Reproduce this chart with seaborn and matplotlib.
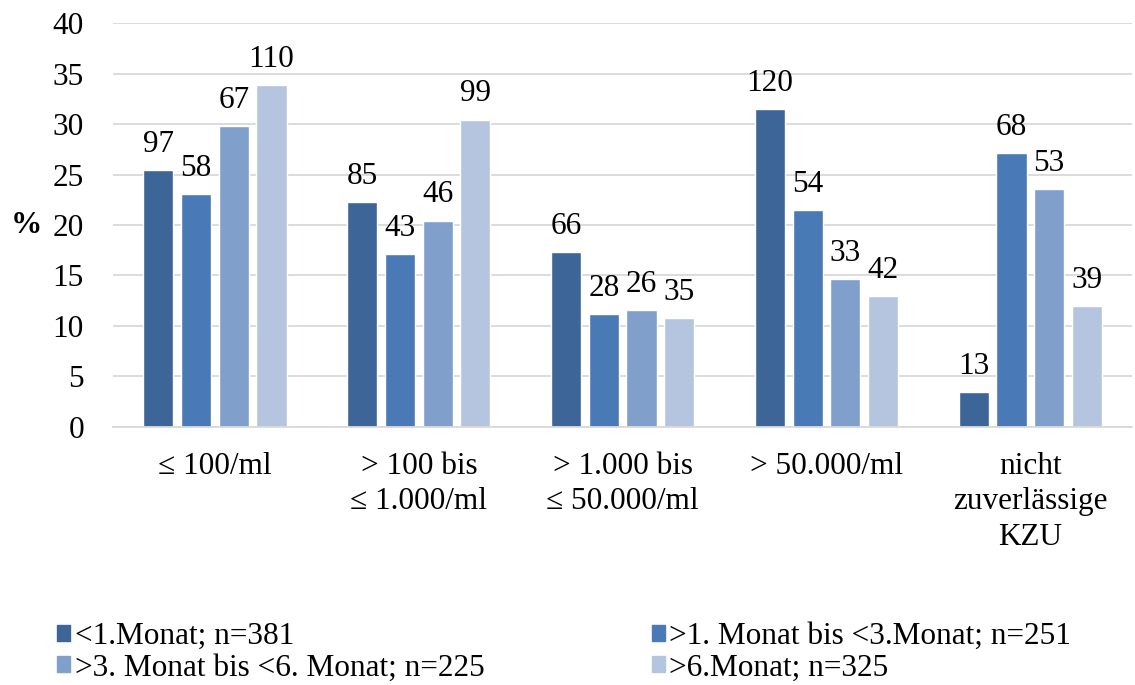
import matplotlib
matplotlib.use("Agg")
import matplotlib.pyplot as plt
import seaborn as sns
import pandas as pd

# Categories (bacterial count classes) and the four age groups
categories = ["≤ 100/ml", "> 100 bis\n≤ 1.000/ml", "> 1.000 bis\n≤ 50.000/ml",
              "> 50.000/ml", "nicht\nzuverlässige\nKZU"]
groups = ["<1.Monat; n=381", ">1. Monat bis <3.Monat; n=251",
          ">3. Monat bis <6. Monat; n=225", ">6.Monat; n=325"]
group_n = [381, 251, 225, 325]

# Counts per group, one list per age group (ordered like categories)
counts_lt1 = [97, 85, 66, 120, 13]
counts_1_3 = [58, 43, 28, 54, 68]
counts_3_6 = [67, 46, 26, 33, 53]
counts_gt6 = [110, 99, 35, 42, 39]

colors = ["#3d6597", "#4a7ab5", "#809fcb", "#b5c5e0"]

all_counts = [counts_lt1, counts_1_3, counts_3_6, counts_gt6]
rows = []
for g, n, cs in zip(groups, group_n, all_counts):
    for c, v in zip(categories, cs):
        rows.append({"Kategorie": c, "Gruppe": g, "Anzahl": v, "Prozent": v / n * 100})
df = pd.DataFrame(rows)

sns.set_theme(style="white")
plt.rcParams["font.family"] = ["Liberation Serif", "DejaVu Serif"]
plt.rcParams["text.color"] = "black"
FS = 22.5

fig = plt.figure(figsize=(11.35, 6.85), dpi=100)
ax = fig.add_axes([0.0996, 0.377, 0.898, 0.589])

sns.barplot(data=df, x="Kategorie", y="Prozent", hue="Gruppe", order=categories,
            hue_order=groups, palette=colors, width=0.74, gap=0.2,
            saturation=1, errorbar=None, ax=ax, legend=False)

for cont, cs in zip(ax.containers, all_counts):
    ax.bar_label(cont, labels=[str(v) for v in cs], padding=8, fontsize=FS,
                 color="black")

ax.set_ylim(0, 40)
ax.set_yticks(range(0, 41, 5))
ax.yaxis.grid(True, color="#d9d9d9", linewidth=1.3)
ax.set_axisbelow(True)
for s in ["top", "right", "left"]:
    ax.spines[s].set_visible(False)
ax.spines["bottom"].set_color("#d9d9d9")
ax.spines["bottom"].set_linewidth(1.3)
ax.tick_params(axis="y", labelsize=FS, length=0, pad=21, labelcolor="black")
ax.tick_params(axis="x", labelsize=FS, length=0, pad=18, labelcolor="black")
for t in ax.get_xticklabels():
    t.set_linespacing(1.3)
ax.set_xlabel("")
ax.set_ylabel("%", fontsize=FS, fontweight="bold", rotation=0, va="center",
              color="black")
ax.yaxis.set_label_coords(-0.085, 0.5)

# legend filled row by row
order = [0, 2, 1, 3]
handles = [plt.Rectangle((0, 0), 1, 1, color=colors[i]) for i in order]
labels = [groups[i] for i in order]
fig.legend(handles, labels, loc="upper left", bbox_to_anchor=(0.05, 0.092),
           ncol=2, frameon=False, fontsize=FS, handlelength=0.42,
           handleheight=0.42, handletextpad=0.15, columnspacing=5.35,
           labelspacing=0.08, borderaxespad=0, borderpad=0,
           labelcolor="black")

fig.savefig("out.png", dpi=100)
